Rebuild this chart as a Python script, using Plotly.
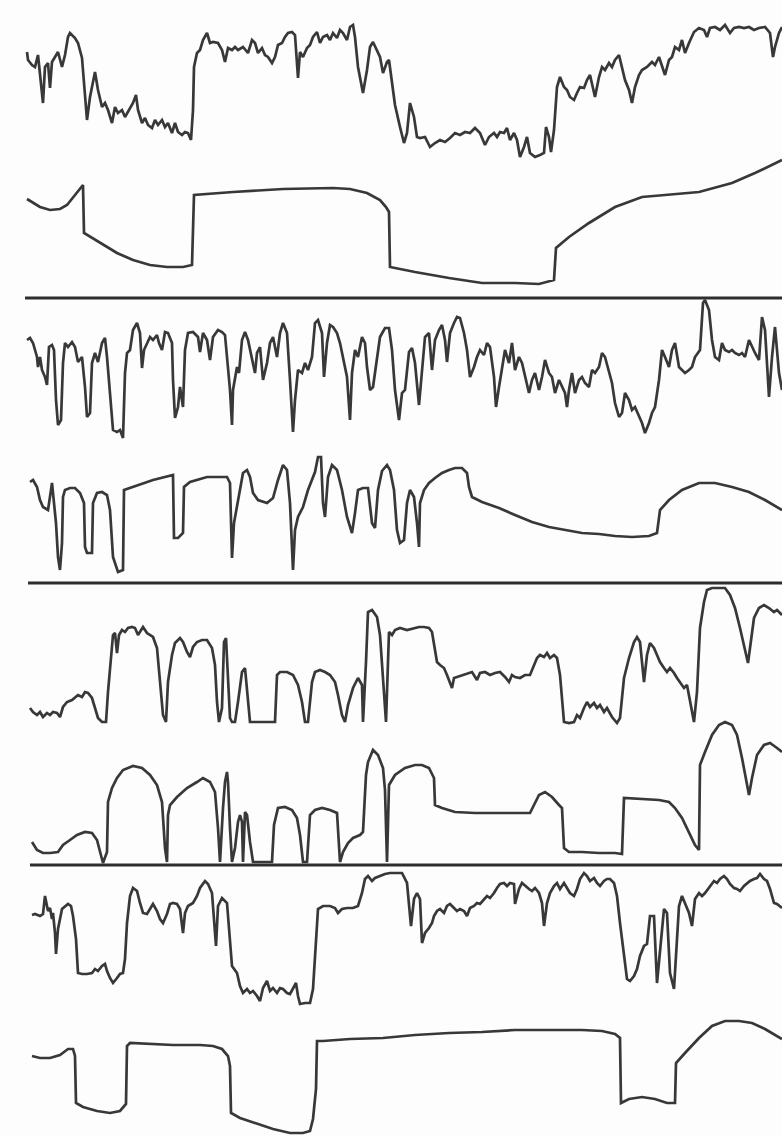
import plotly.graph_objects as go

# Each series: list of (time, signal) samples
panel1_raw = [(27,52),(28,60),(32,65),(35,67),(38,55),(43,103),(45,67),(48,63),(50,88),(52,62),(55,57),(58,52),
    (62,67),(65,55),(68,37),(70,33),(75,38),(78,43),(82,58),(85,97),(87,120),(90,97),(95,72),(98,90),(102,107),
    (105,103),(108,110),(112,123),(115,107),(118,113),(122,110),(125,117),(130,108),(133,103),(136,95),(138,110),
    (142,123),(145,118),(148,125),(152,128),(155,120),(158,125),(162,120),(165,127),(168,123),(172,133),(175,123),
    (178,132),(182,135),(185,132),(188,133),(191,140),(193,110),(194,67),(197,53),(200,50),(203,40),(207,33),
    (210,43),(213,42),(218,43),(222,50),(225,62),(228,48),(232,50),(235,47),(238,50),(243,47),(248,53),(252,40),
    (255,43),(258,53),(262,48),(265,55),(268,57),(272,63),(275,57),(278,45),(282,43),(285,37),(288,33),(292,32),
    (295,35),(297,60),(298,78),(300,52),(303,57),(307,48),(310,45),(313,37),(317,32),(320,43),(323,37),(327,35),
    (330,40),(333,33),(337,38),(340,30),(343,33),(347,40),(350,27),(353,25),(355,37),(358,67),(362,90),(363,93),
    (367,70),(370,47),(373,42),(377,50),(380,57),(383,73),(387,62),(389,60),(392,83),(395,105),(400,127),(404,143),
    (407,133),(410,103),(414,117),(417,137),(420,138),(425,137),(430,147),(435,143),(440,140),(445,142),(450,138),
    (455,133),(460,135),(465,132),(470,133),(475,128),(480,133),(485,145),(489,137),(494,133),(497,137),(500,132),
    (504,133),(507,128),(510,140),(514,133),(517,140),(520,157),(524,147),(527,137),(530,153),(535,157),(540,155),
    (544,153),(546,127),(549,137),(551,152),(554,130),(557,87),(560,77),(564,87),(567,90),(570,97),(574,100),
    (577,93),(580,87),(584,88),(587,80),(590,75),(595,97),(599,77),(602,67),(605,70),(609,63),(612,67),(615,60),
    (619,55),(622,67),(625,80),(629,90),(632,103),(635,87),(639,75),(642,70),(647,67),(652,62),(655,65),(659,57),
    (662,67),(665,75),(669,60),(672,57),(675,47),(679,50),(682,40),(685,53),(689,43),(694,32),(699,28),(704,30),
    (707,37),(710,28),(715,27),(720,30),(725,25),(730,33),(734,28),(739,27),(744,28),(749,27),(754,30),(759,28),
    (765,27),(770,33),(773,57),(775,47),(779,33),(782,27)]

panel1_fit = [(27,199),(40,207),(50,210),(60,209),(67,205),(75,195),(83,185),(84,233),(100,243),(117,253),
    (133,260),(150,265),(167,267),(183,267),(192,265),(194,195),(233,192),(283,189),(333,188),(350,189),(367,193),
    (380,200),(386,207),(389,212),(390,267),(415,272),(449,278),(482,283),(515,283),(539,284),(554,280),(556,248),
    (569,237),(589,223),(615,207),(642,197),(665,195),(699,192),(732,183),(755,173),(782,160)]

panel2_raw = [(27,340),(30,338),(33,343),(37,357),(38,367),(40,357),(42,370),(45,377),(47,385),(49,347),(52,345),
    (54,350),(56,400),(58,425),(61,420),(63,363),(65,343),(68,347),(72,342),(75,347),(78,362),(82,357),(85,387),
    (87,417),(90,413),(92,363),(95,353),(98,362),(102,343),(105,338),(107,357),(110,390),(113,430),(117,432),
    (120,430),(123,438),(125,373),(127,353),(130,350),(133,330),(137,323),(140,333),(142,368),(144,350),(147,343),
    (150,337),(153,340),(157,335),(159,343),(162,350),(165,332),(168,333),(172,343),(173,380),(175,418),(178,407),
    (180,387),(183,407),(185,350),(188,333),(193,332),(198,337),(200,352),(203,333),(207,340),(210,360),(213,337),
    (218,330),(222,332),(225,335),(227,357),(230,390),(232,425),(233,390),(237,367),(239,373),(242,340),(245,332),
    (248,340),(252,357),(255,373),(257,353),(260,347),(263,380),(267,363),(270,343),(273,337),(277,357),(280,333),
    (283,323),(287,333),(290,380),(293,432),(295,400),(298,370),(302,373),(305,363),(308,370),(312,357),(315,323),
    (318,320),(322,333),(324,377),(327,343),(330,325),(333,327),(337,333),(340,343),(343,357),(347,377),(350,420),
    (352,373),(355,350),(358,357),(362,337),(365,343),(367,367),(370,390),(373,387),(377,357),(380,337),(385,328),
    (389,328),(392,350),(395,390),(399,420),(402,393),(405,390),(409,352),(412,348),(415,363),(419,405),(422,373),
    (425,337),(429,333),(432,370),(435,340),(439,330),(442,325),(445,340),(447,362),(450,333),(454,323),(457,317),
    (460,318),(464,333),(467,350),(470,377),(474,367),(477,357),(480,350),(484,355),(487,343),(490,347),(494,377),
    (496,407),(499,387),(502,370),(505,350),(509,363),(512,343),(515,370),(519,357),(522,363),(525,377),(529,393),
    (532,380),(535,373),(539,390),(542,377),(545,360),(549,373),(552,377),(555,393),(559,380),(562,387),(565,393),
    (567,407),(569,390),(572,373),(575,393),(579,380),(582,377),(585,383),(589,387),(592,370),(595,373),(599,367),
    (602,353),(605,357),(609,373),(612,383),(615,403),(619,417),(622,413),(625,393),(629,400),(632,410),(635,407),
    (639,417),(642,423),(645,433),(649,423),(652,413),(655,407),(659,380),(662,350),(665,357),(669,367),(672,350),
    (675,343),(679,367),(682,370),(685,373),(689,370),(692,367),(695,357),(700,350),(703,303),(705,300),(709,310),
    (712,340),(715,357),(719,360),(722,343),(725,350),(729,352),(732,350),(735,353),(739,355),(742,353),(745,357),
    (749,340),(752,347),(755,353),(759,360),(762,317),(765,330),(769,397),(772,357),(775,327),(779,373),(782,390)]

panel2_fit = [(30,482),(33,480),(37,487),(40,500),(43,507),(48,510),(51,490),(52,483),(53,493),(56,523),(58,557),
    (60,570),(62,543),(63,497),(65,490),(70,488),(75,488),(80,493),(84,503),(85,547),(87,553),(92,553),(93,503),
    (97,493),(102,492),(107,495),(110,510),(113,557),(118,572),(123,570),(124,490),(133,487),(153,480),(173,475),
    (174,538),(178,538),(183,533),(184,487),(190,482),(207,477),(227,477),(230,483),(232,558),(234,523),(239,493),
    (243,473),(247,470),(250,477),(253,493),(258,500),(267,503),(273,498),(278,480),(283,465),(287,470),(290,503),
    (293,570),(295,530),(298,517),(303,507),(308,490),(315,472),(318,457),(321,457),(323,503),(325,517),(328,477),
    (332,465),(337,470),(342,490),(347,517),(352,533),(355,513),(358,490),(363,488),(368,488),(372,523),(375,528),
    (378,490),(382,471),(387,465),(390,470),(394,490),(397,530),(400,543),(404,540),(407,503),(410,490),(414,497),
    (417,523),(419,547),(420,503),(424,490),(429,483),(435,478),(442,473),(449,470),(455,468),(462,468),(467,473),
    (469,487),(472,497),(482,502),(499,508),(515,515),(532,522),(549,527),(565,530),(582,533),(599,534),(615,536),
    (632,537),(649,536),(657,533),(660,510),(669,500),(682,490),(699,483),(715,483),(732,487),(749,492),(765,500),
    (782,510)]

panel3_raw = [(30,708),(33,712),(37,715),(40,712),(43,717),(47,713),(50,715),(53,712),(57,713),(60,717),(63,707),
    (67,702),(72,700),(75,697),(78,695),(82,697),(85,692),(88,693),(92,698),(95,708),(98,718),(102,722),(106,722),
    (108,692),(111,655),(113,635),(115,633),(117,653),(119,635),(122,630),(125,632),(128,628),(132,627),(135,628),
    (138,635),(142,628),(143,627),(147,633),(150,635),(153,637),(157,648),(160,682),(163,715),(166,722),(168,682),
    (172,655),(175,643),(180,638),(183,642),(187,652),(190,657),(193,647),(197,642),(202,640),(207,640),(212,648),
    (215,665),(217,702),(219,722),(222,708),(224,642),(226,638),(228,675),(230,718),(232,722),(235,722),(238,702),
    (242,672),(245,668),(247,688),(250,722),(263,722),(275,722),(277,675),(280,672),(287,672),(293,675),(298,685),
    (302,702),(305,722),(308,722),(312,682),(315,672),(320,670),(325,672),(330,675),(335,682),(338,695),(342,715),
    (345,722),(348,705),(353,688),(358,678),(362,685),(363,722),(366,662),(368,612),(372,610),(377,617),(380,635),
    (383,675),(386,722),(389,632),(392,635),(395,630),(400,628),(407,630),(414,628),(419,627),(424,627),(429,628),
    (432,632),(435,648),(437,662),(440,665),(444,668),(447,675),(450,682),(452,688),(454,678),(457,677),(462,675),
    (467,673),(472,672),(477,680),(480,673),(485,672),(490,675),(495,673),(500,672),(505,677),(509,682),(512,675),
    (515,677),(520,678),(525,675),(530,675),(534,665),(537,658),(540,655),(544,657),(547,653),(550,658),(554,655),
    (557,658),(560,675),(564,722),(569,723),(574,722),(577,715),(580,718),(584,708),(587,702),(590,707),(594,703),
    (597,708),(600,705),(604,712),(607,708),(612,717),(617,723),(620,718),(624,678),(629,658),(634,642),(637,637),
    (640,642),(644,682),(647,655),(650,643),(654,648),(657,655),(660,662),(664,668),(667,672),(670,668),(674,673),
    (677,678),(680,682),(684,688),(687,685),(690,702),(694,722),(697,692),(700,628),(704,602),(707,590),(712,588),
    (719,588),(725,588),(730,595),(735,608),(740,628),(745,652),(748,663),(750,648),(754,618),(759,608),(764,605),
    (769,608),(774,612),(777,610),(782,615)]

panel3_fit = [(32,842),(37,850),(43,853),(50,853),(58,852),(63,845),(70,840),(77,835),(85,832),(92,833),(97,840),
    (100,852),(103,863),(107,852),(108,802),(112,788),(117,778),(123,770),(133,766),(142,768),(150,775),(157,785),
    (162,802),(165,848),(167,862),(168,815),(170,805),(177,797),(187,788),(197,782),(203,778),(210,782),(215,792),
    (218,828),(220,862),(223,808),(225,782),(227,772),(228,782),(230,828),(232,862),(235,848),(238,822),(240,815),
    (242,822),(243,862),(245,812),(247,815),(250,842),(253,862),(260,862),(267,862),(272,862),(274,825),(278,808),
    (285,807),(292,810),(297,818),(300,835),(303,862),(307,862),(310,815),(315,810),(322,808),(330,810),(337,813),
    (338,828),(340,862),(343,852),(348,843),(353,838),(360,835),(363,832),(366,775),(368,762),(373,750),(378,755),
    (383,768),(385,790),(387,862),(389,785),(395,775),(405,768),(415,765),(422,765),(429,768),(434,778),(435,805),
    (442,808),(455,812),(475,813),(499,813),(530,813),(534,805),(539,795),(545,792),(552,797),(559,805),(562,808),
    (564,848),(569,852),(582,852),(599,853),(615,853),(622,854),(624,798),(642,799),(659,800),(669,802),(675,808),
    (682,818),(689,832),(695,845),(699,850),(700,765),(705,752),(712,735),(719,725),(725,722),(732,725),(737,735),
    (742,758),(747,785),(749,795),(752,778),(757,755),(764,745),(770,743),(777,748),(782,752)]

panel4_raw = [(32,915),(35,914),(40,916),(43,914),(45,896),(47,906),(48,911),(50,908),(52,919),(53,913),(55,933),
    (56,954),(58,929),(62,909),(65,906),(68,904),(71,906),(73,916),(76,939),(78,973),(82,974),(87,974),(92,973),
    (95,969),(98,971),(102,966),(105,964),(107,971),(110,978),(113,983),(117,978),(120,974),(123,973),(125,959),
    (127,923),(130,896),(133,888),(137,891),(140,903),(143,913),(147,914),(150,909),(153,904),(157,911),(160,919),
    (163,923),(167,914),(170,904),(173,903),(177,904),(180,909),(183,933),(185,913),(188,906),(193,903),(197,896),
    (200,888),(205,881),(208,884),(212,893),(214,916),(216,946),(218,906),(222,898),(227,903),(230,936),(232,966),
    (237,973),(240,986),(243,993),(247,989),(250,993),(253,991),(257,996),(260,1001),(263,988),(267,981),(270,991),
    (273,988),(277,993),(280,988),(283,989),(287,993),(290,994),(293,989),(296,983),(298,996),(300,1004),(305,1003),
    (310,1003),(313,989),(316,939),(318,909),(323,906),(330,906),(335,908),(338,913),(342,909),(347,908),(353,908),
    (358,906),(362,893),(365,879),(368,876),(372,881),(375,878),(380,876),(385,874),(390,873),(395,873),(402,873),
    (407,883),(409,903),(411,926),(414,899),(417,893),(420,899),(422,943),(425,933),(429,928),(432,923),(434,916),
    (437,911),(440,909),(444,913),(447,906),(450,904),(454,908),(457,911),(460,909),(464,911),(467,916),(470,908),
    (474,906),(477,903),(480,904),(484,899),(487,896),(490,898),(494,893),(497,888),(500,884),(504,883),(507,886),
    (510,883),(514,884),(515,904),(519,889),(522,883),(525,886),(529,889),(532,891),(535,888),(539,893),(542,903),
    (544,926),(547,903),(550,893),(554,886),(557,883),(560,889),(564,883),(567,888),(570,893),(574,896),(577,889),
    (580,879),(584,873),(587,876),(590,881),(594,878),(597,883),(600,886),(604,881),(607,879),(610,879),(614,883),
    (617,896),(620,923),(624,956),(627,979),(630,981),(634,976),(637,969),(640,956),(644,946),(647,944),(650,916),
    (654,916),(657,983),(660,949),(664,909),(667,913),(670,973),(674,989),(676,956),(679,906),(682,896),(685,903),
    (689,913),(692,926),(695,899),(699,893),(702,896),(705,893),(710,886),(714,881),(717,883),(720,879),(724,876),
    (727,879),(730,884),(734,888),(737,889),(740,891),(744,886),(747,883),(750,881),(754,879),(757,878),(760,874),
    (764,879),(767,881),(770,889),(774,903),(777,904),(782,908)]

panel4_fit = [(32,1056),(40,1058),(50,1058),(60,1055),(68,1049),(73,1049),(75,1056),(76,1103),(83,1107),(97,1111),
    (110,1113),(120,1111),(126,1104),(127,1046),(130,1043),(150,1044),(173,1045),(200,1045),(213,1046),(222,1049),
    (228,1056),(230,1066),(231,1113),(240,1118),(257,1124),(273,1129),(290,1133),(303,1133),(310,1131),(313,1119),
    (316,1089),(317,1041),(323,1041),(350,1039),(383,1038),(415,1035),(449,1033),(482,1032),(515,1030),(549,1030),
    (582,1030),(602,1031),(615,1034),(620,1038),(621,1103),(629,1099),(642,1097),(655,1099),(667,1103),(675,1103),
    (676,1063),(685,1053),(699,1038),(712,1026),(725,1021),(739,1021),(752,1023),(765,1029),(782,1039)]

separator_level = [298, 583, 865]
separator_start = [25, 28, 30]
separator_end = [782, 782, 782]

series = [panel1_raw, panel1_fit, panel2_raw, panel2_fit, panel3_raw, panel3_fit, panel4_raw, panel4_fit]

INK = "#383838"
fig = go.Figure()
for s in series:
    xs = [p[0] for p in s]
    ys = [p[1] for p in s]
    fig.add_trace(go.Scatter(x=xs, y=ys, mode="lines",
                             line=dict(color=INK, width=2.7), hoverinfo="skip", showlegend=False))

for lvl, x0, x1 in zip(separator_level, separator_start, separator_end):
    fig.add_trace(go.Scatter(x=[x0, x1], y=[lvl, lvl], mode="lines",
                             line=dict(color="#2e2e2e", width=3), hoverinfo="skip", showlegend=False))

fig.update_layout(
    width=782, height=1136,
    margin=dict(l=0, r=0, t=0, b=0),
    paper_bgcolor="#fdfdfd", plot_bgcolor="#fdfdfd",
    xaxis=dict(range=[0, 782], visible=False, fixedrange=True),
    yaxis=dict(range=[1136, 0], visible=False, fixedrange=True),
)
fig.write_html("out.html")
